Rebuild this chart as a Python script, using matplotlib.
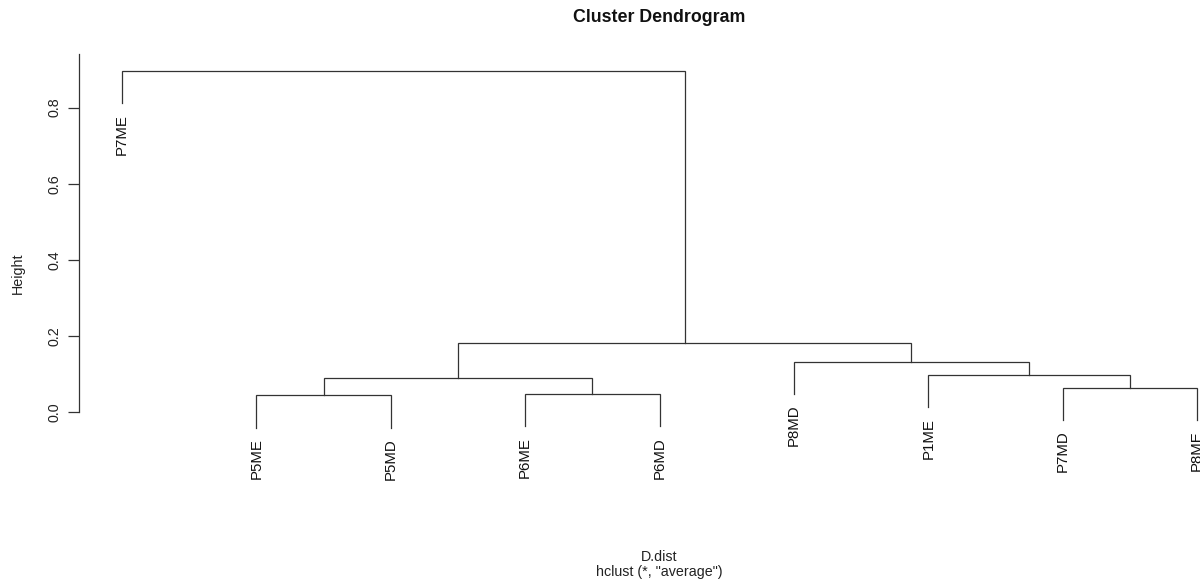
import numpy as np
import matplotlib
matplotlib.use("Agg")
import matplotlib.pyplot as plt

plt.rcParams['font.family'] = ['Liberation Sans', 'DejaVu Sans']

# leaves in plotting order
LEAVES = ["P7ME", "P5ME", "P5MD", "P6ME", "P6MD", "P8MD", "P1ME", "P7MD", "P8ME"]
# R-style merge table: negative = leaf (1-based, in order), positive = earlier merge
MERGE_A = [-2, -4, -8, 1, -7, -6, 4, -1]
MERGE_B = [-3, -5, -9, 2, 3, 5, 6, 7]
HEIGHTS = [0.045, 0.048, 0.065, 0.089, 0.098, 0.133, 0.181, 0.897]
Y_TICKS = [0.0, 0.2, 0.4, 0.6, 0.8]

LINE_COL = "#333333"
hang = 0.1 * (max(HEIGHTS) - min(HEIGHTS))

fig = plt.figure(figsize=(12, 5.83), dpi=100)
W, H = 1200, 583
left_px, right_px = 79, 1240
top_px, bot_px = 54.2, 450.4
ax = fig.add_axes([left_px / W, 1 - bot_px / H, (right_px - left_px) / W, (bot_px - top_px) / H])
ax.set_xlim(0.68, 9.32)
ax.set_ylim(-0.1, 0.94)

# x position / height of each merge
pos = {}
def node_xy(k):
    if k < 0:
        return -k, None
    return pos[k]

for i, (a, b, h) in enumerate(zip(MERGE_A, MERGE_B, HEIGHTS), start=1):
    xs, ys = [], []
    for k in (a, b):
        x, hy = node_xy(k)
        if hy is None:
            y0 = h - hang
            ax.text(x, y0 - 0.028, LEAVES[-k - 1], rotation=90, ha='center', va='top',
                    fontsize=10.8, color='#111111')
        else:
            y0 = hy
        xs.append(x)
        ys.append(y0)
    ax.plot([xs[0], xs[0], xs[1], xs[1]], [ys[0], h, h, ys[1]], color=LINE_COL, lw=0.9,
            solid_joinstyle='miter', clip_on=False)
    pos[i] = ((xs[0] + xs[1]) / 2, h)

for s in ['top', 'right', 'bottom']:
    ax.spines[s].set_visible(False)
ax.spines['left'].set_bounds(0, 0.94)
ax.spines['left'].set_color(LINE_COL)
ax.spines['left'].set_linewidth(0.9)
ax.set_xticks([])
ax.set_yticks(Y_TICKS)
ax.set_yticklabels([f"{t:.1f}" for t in Y_TICKS], rotation=90, va='center', fontsize=10.3, color='#222222')
ax.tick_params(axis='y', length=7.7, width=0.9, color=LINE_COL, pad=5)

fig.text(659 / W, 1 - 18 / H, "Cluster Dendrogram", ha='center', va='center',
         fontsize=12.8, fontweight='bold', color='#111111')
fig.text(17.5 / W, 1 - 273 / H, "Height", rotation=90, ha='center', va='center',
         fontsize=10.3, color='#222222')
fig.text(659 / W, 1 - 557 / H, "D.dist", ha='center', va='center', fontsize=10.3, color='#222222')
fig.text(659 / W, 1 - 572 / H, 'hclust (*, "average")', ha='center', va='center',
         fontsize=10.3, color='#222222')

fig.savefig("out.png", dpi=100)
